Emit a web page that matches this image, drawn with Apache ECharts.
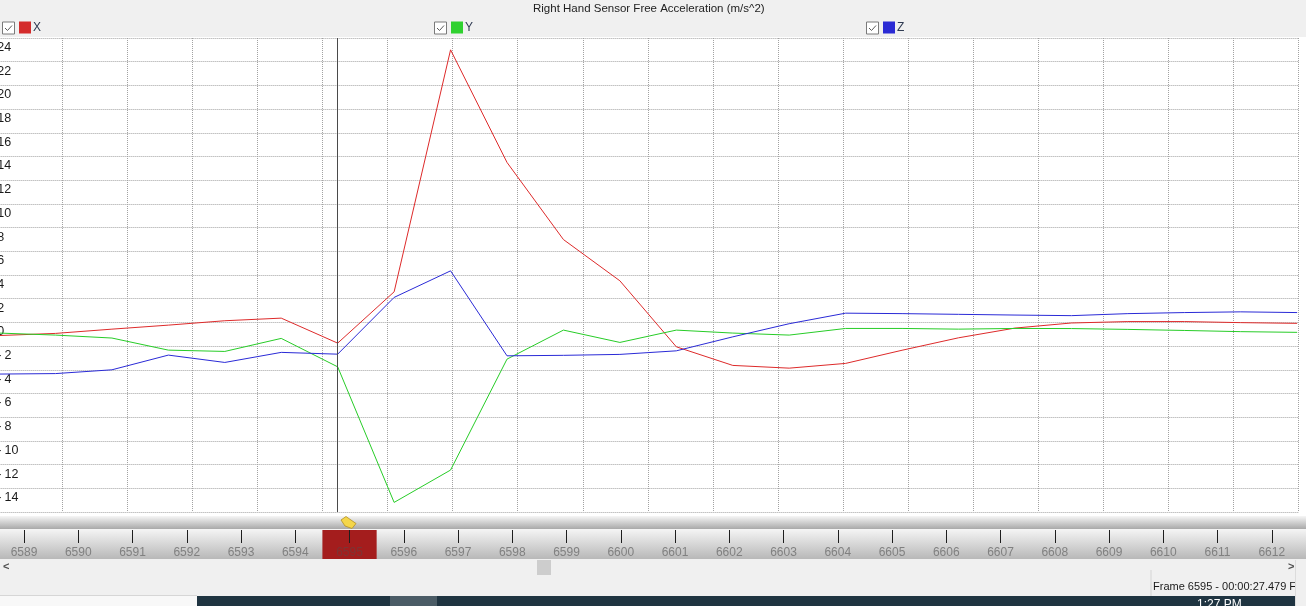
<!DOCTYPE html>
<html>
<head>
<meta charset="utf-8">
<script src="https://cdn.jsdelivr.net/npm/echarts@6/dist/echarts.min.js"></script>
<style>
  html, body { margin: 0; padding: 0; background: #f0f0f0; }
  #chart { width: 1306px; height: 606px; }
</style>
</head>
<body>
<div id="chart"></div>
<script>
// Frame numbers shown along the timeline ruler, one sample per frame
const frames = [6589, 6590, 6591, 6592, 6593, 6594, 6595, 6596, 6597, 6598, 6599, 6600,
                6601, 6602, 6603, 6604, 6605, 6606, 6607, 6608, 6609, 6610, 6611, 6612];

// Free acceleration per axis (m/s^2)
const accX = [-1.11, -0.93, -0.57, -0.23, 0.14, 0.36, -1.75, 2.58, 23.0, 13.5, 6.99, 3.51,
              -2.06, -3.63, -3.86, -3.46, -2.35, -1.3, -0.48, -0.05, 0.07, 0.07, -0.02, -0.08];
const accY = [-0.9, -1.07, -1.32, -2.34, -2.45, -1.35, -3.75, -15.19, -12.46, -3.1, -0.65, -1.69,
              -0.65, -0.9, -1.07, -0.51, -0.51, -0.57, -0.51, -0.52, -0.59, -0.68, -0.78, -0.84];
const accZ = [-4.36, -4.32, -4.0, -2.76, -3.38, -2.53, -2.68, 2.11, 4.35, -2.82, -2.78, -2.7,
              -2.4, -1.22, -0.11, 0.78, 0.74, 0.68, 0.62, 0.57, 0.74, 0.83, 0.89, 0.83];

const currentFrame = 6595;
const chartTitle = 'Right Hand Sensor Free Acceleration (m/s^2)';
const statusText = 'Frame 6595 - 00:00:27.479 F';
const clockText = '1:27 PM';

const UI_FONT = '"Liberation Sans", Arial, sans-serif';
const legendColors = { X: '#d42b2b', Y: '#2fd12f', Z: '#2b2bd4' };
const lineColors = { X: '#dd2a2a', Y: '#27cc27', Z: '#2a2ad6' };
const GRID_LINE = { color: '#a2a2a2', width: 1, type: [1, 1] };

const pairs = vals => frames.map((f, i) => [f, vals[i]]);

function lineSeries(name, vals, extra) {
  return Object.assign({
    name: name,
    type: 'line',
    xAxisIndex: 0,
    yAxisIndex: 0,
    data: pairs(vals),
    symbol: 'none',
    showSymbol: false,
    itemStyle: { color: legendColors[name] },
    lineStyle: { width: 1, color: lineColors[name] },
    emphasis: { disabled: true },
    z: 3
  }, extra || {});
}

function legendAt(name, left) {
  return {
    data: [name],
    left: left,
    top: 21.5,
    padding: 0,
    icon: 'rect',
    itemWidth: 12,
    itemHeight: 12,
    selectedMode: false,
    textStyle: { fontFamily: UI_FONT, fontSize: 12, color: '#2f3a52', padding: [0, 0, 0, -3] }
  };
}

function checkbox(x, y) {
  return [
    { type: 'rect', shape: { x: x + 0.5, y: y + 0.5, width: 12, height: 12 },
      style: { fill: '#ffffff', stroke: '#7a7a7a', lineWidth: 1 }, z: 10 },
    { type: 'polyline', shape: { points: [[x + 3, y + 6.5], [x + 5.5, y + 9], [x + 10, y + 4]] },
      style: { fill: null, stroke: '#5a5a5a', lineWidth: 1 }, z: 11 }
  ];
}

const grad = (c0, c1) => new echarts.graphic.LinearGradient(0, 0, 0, 1, [
  { offset: 0, color: c0 }, { offset: 1, color: c1 }
]);

// value labels: the sign sits in a digit-wide box so all digits line up
function valueLabel(v) {
  if (v === -16) return '';
  return v < 0 ? '{m|-}' + Math.abs(v) : String(v);
}

const chart = echarts.init(document.getElementById('chart'), null, { renderer: 'canvas' });

chart.setOption({
  backgroundColor: '#f0f0f0',
  animation: false,
  title: {
    text: chartTitle,
    left: 533,
    top: 3,
    padding: 0,
    textStyle: { fontFamily: UI_FONT, fontSize: 11.5, fontWeight: 'normal', color: '#222222' }
  },
  legend: [legendAt('X', 19), legendAt('Y', 451), legendAt('Z', 883)],
  grid: [
    { left: -2.65, top: 38, width: 1300.95, height: 474, show: false, outerBoundsMode: 'none', containLabel: false },
    { left: -3.1, top: 530, width: 1302, height: 29, show: false, outerBoundsMode: 'none', containLabel: false }
  ],
  xAxis: [
    { // sample axis (frame number)
      gridIndex: 0, type: 'value', min: 6588.97, max: 6612.02, show: false
    },
    { // vertical grid divisions of the plot
      gridIndex: 0, type: 'value', min: 0, max: 20, interval: 1,
      axisLine: { show: false }, axisTick: { show: false }, axisLabel: { show: false },
      splitLine: { show: true, lineStyle: GRID_LINE }
    },
    { // timeline ruler
      gridIndex: 1, type: 'category', data: frames.map(String), position: 'top',
      boundaryGap: true, z: 5,
      axisLine: { show: false, onZero: false },
      axisTick: { show: true, inside: true, alignWithLabel: true, length: 13,
                  lineStyle: { color: '#1e1e1e', width: 1 } },
      axisLabel: {
        inside: true, margin: 17, fontFamily: UI_FONT, fontSize: 12,
        color: (v) => (Number(v) === currentFrame ? '#7e3434' : '#808080')
      },
      splitLine: { show: false }
    }
  ],
  yAxis: [
    {
      gridIndex: 0, type: 'value', min: -16, max: 24, interval: 2,
      axisLine: { show: false, onZero: false }, axisTick: { show: false },
      splitLine: { show: true, lineStyle: GRID_LINE },
      axisLabel: {
        align: 'left', margin: 0, verticalAlign: 'top', lineHeight: 19,
        fontFamily: UI_FONT, fontSize: 12.5, color: '#1a1a1a',
        formatter: valueLabel,
        rich: { m: { width: 7.2, fontFamily: UI_FONT, fontSize: 12.5, lineHeight: 19, color: '#1a1a1a' } }
      }
    },
    { gridIndex: 1, type: 'value', min: 0, max: 1, show: false }
  ],
  series: [
    lineSeries('X', accX, {
      markLine: {
        silent: true, symbol: 'none', animation: false,
        label: { show: false },
        lineStyle: { color: '#4a4a4a', width: 1, type: 'solid' },
        data: [{ xAxis: currentFrame }]
      }
    }),
    lineSeries('Y', accY),
    lineSeries('Z', accZ),
    { // current frame highlight on the ruler
      type: 'bar', xAxisIndex: 2, yAxisIndex: 1, silent: true, z: 1,
      barWidth: '100%',
      data: frames.map(f => (f === currentFrame ? 1 : null)),
      itemStyle: { color: '#a41d1d' }
    }
  ],
  graphic: [
    // plot background
    { type: 'rect', shape: { x: 0, y: 37, width: 1306, height: 479 }, style: { fill: '#ffffff' }, z: -10 },
    // splitter bar under the plot
    { type: 'rect', shape: { x: 0, y: 516, width: 1306, height: 13 },
      style: { fill: grad('#f6f6f6', '#a9a9a9') }, z: 20 },
    { type: 'rect', shape: { x: 0, y: 529, width: 1306, height: 1 }, style: { fill: '#f4f4f4' }, z: 20 },
    // ruler background
    { type: 'rect', shape: { x: 0, y: 530, width: 1306, height: 29 },
      style: { fill: grad('#f3f3f3', '#b8b8b8') }, z: -10 },
    // cursor handle
    { type: 'polygon', shape: { points: [[341, 520], [346, 516.5], [356, 523.5], [352, 528.5], [345, 526]] },
      style: { fill: '#f4d64a', stroke: '#b39126', lineWidth: 0.8 }, z: 30 },
    // scroll arrows and thumb
    { type: 'text', style: { x: 3, y: 567, text: '<', fontFamily: UI_FONT, fontSize: 11, fontWeight: 'bold',
      fill: '#505050', verticalAlign: 'middle' }, z: 20 },
    { type: 'text', style: { x: 1288, y: 567, text: '>', fontFamily: UI_FONT, fontSize: 11, fontWeight: 'bold',
      fill: '#505050', verticalAlign: 'middle' }, z: 20 },
    { type: 'rect', shape: { x: 537, y: 560, width: 14, height: 15 }, style: { fill: '#cdcdcd' }, z: 20 },
    // status line
    { type: 'rect', shape: { x: 1150.5, y: 570, width: 1, height: 26 }, style: { fill: '#d4d4d4' }, z: 20 },
    { type: 'text', style: { x: 1153, y: 587, text: statusText, fontFamily: UI_FONT, fontSize: 11,
      fill: '#1a1a1a', verticalAlign: 'middle' }, z: 20 },
    { type: 'rect', shape: { x: 1295, y: 560, width: 1, height: 46 }, style: { fill: '#dcdcdc' }, z: 20 },
    // bottom strip
    { type: 'rect', shape: { x: 0, y: 595, width: 197, height: 1 }, style: { fill: '#d6d6d6' }, z: 20 },
    { type: 'rect', shape: { x: 0, y: 596, width: 197, height: 10 }, style: { fill: '#f8f8f8' }, z: 20 },
    { type: 'rect', shape: { x: 197, y: 596, width: 1098, height: 10 }, style: { fill: '#1f3441' }, z: 20 },
    { type: 'rect', shape: { x: 390, y: 596, width: 47, height: 10 }, style: { fill: '#4b5c66' }, z: 21 },
    { type: 'text', style: { x: 1197, y: 599, text: clockText, fontFamily: UI_FONT, fontSize: 12,
      fill: '#ffffff', verticalAlign: 'top' }, z: 22 }
  ].concat(checkbox(2, 21.5), checkbox(434, 21.5), checkbox(866, 21.5))
});
</script>
</body>
</html>
